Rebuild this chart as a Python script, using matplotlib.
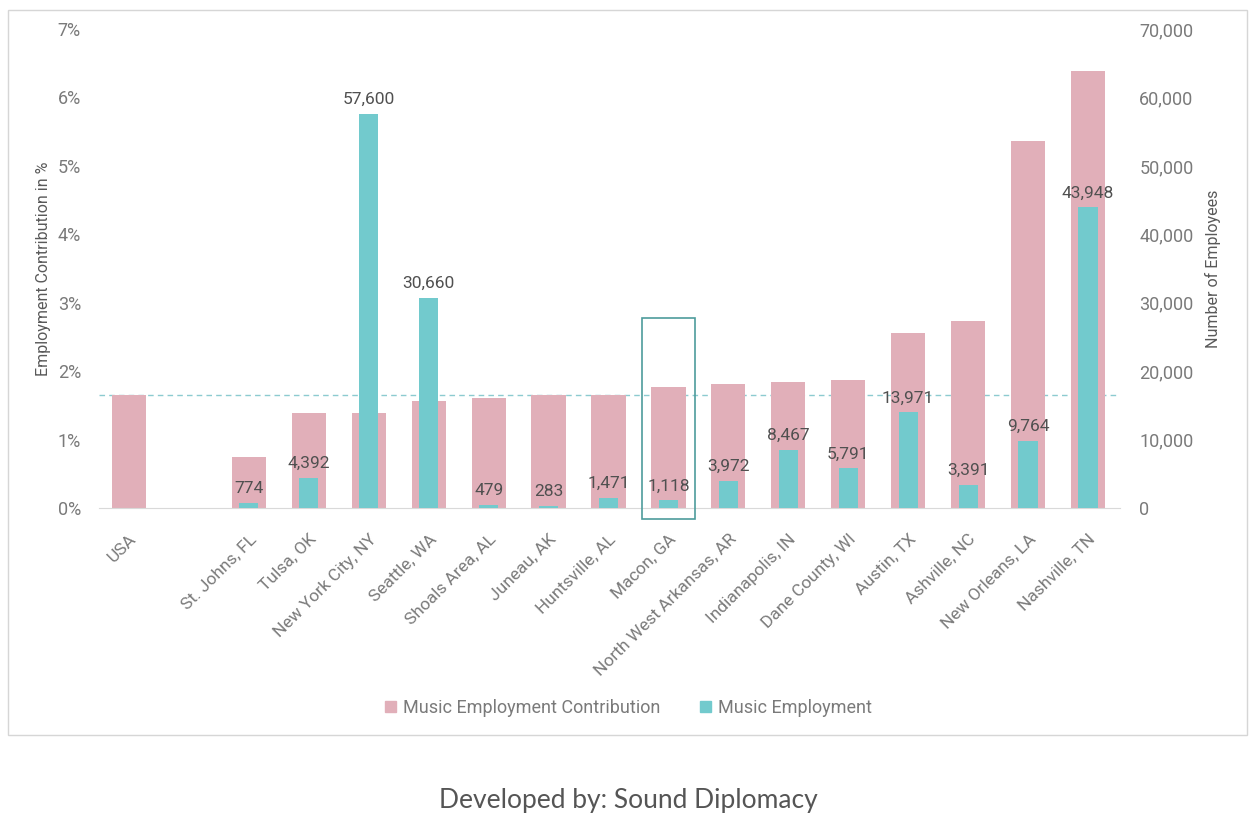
import matplotlib
matplotlib.use("Agg")
import matplotlib.pyplot as plt
from matplotlib.patches import Rectangle
from matplotlib.ticker import FuncFormatter, MultipleLocator
import numpy as np

plt.rcParams['font.family'] = ['Roboto', 'DejaVu Sans']

# ---- data -------------------------------------------------------------
categories = ["USA", "", "St. Johns, FL", "Tulsa, OK", "New York City, NY",
              "Seattle, WA", "Shoals Area, AL", "Juneau, AK", "Huntsville, AL",
              "Macon, GA", "North West Arkansas, AR", "Indianapolis, IN",
              "Dane County, WI", "Austin, TX", "Ashville, NC",
              "New Orleans, LA", "Nashville, TN"]

# share of employment in music (%)
contribution_pct = [1.65, np.nan, 0.75, 1.39, 1.39, 1.56, 1.60, 1.65, 1.65,
                    1.77, 1.81, 1.84, 1.87, 2.56, 2.73, 5.36, 6.39]

# number of music employees
employees = [np.nan, np.nan, 774, 4392, 57600, 30660, 479, 283, 1471,
             1118, 3972, 8467, 5791, 13971, 3391, 9764, 43948]

usa_reference = 1.65
highlight = "Macon, GA"

# ---- styling ----------------------------------------------------------
PINK = "#e1afb9"
TEAL = "#72cacd"
TICK_GREY = "#7a7a7a"
LABEL_GREY = "#595959"

fig = plt.figure(figsize=(12.57, 8.30), dpi=100)
ax = fig.add_axes([0.0788, 0.388, 0.812, 0.577])
ax2 = ax.twinx()

x = np.arange(len(categories))

ax.bar(x, contribution_pct, width=0.57, color=PINK, zorder=2)
ax2.bar(x, employees, width=0.32, color=TEAL, zorder=3)

# value labels above the employment bars
for xi, v in zip(x, employees):
    if np.isnan(v):
        continue
    ax2.annotate(f"{int(v):,}", (xi, v), xytext=(0, 5),
                 textcoords="offset points", ha="center", va="bottom",
                 fontsize=12.5, color="#505050")

# national average reference line
ax.axhline(usa_reference, color="#8ccbd0", lw=1.0, ls=(0, (4, 3)), zorder=1)

# highlight box around the chosen city
hi = categories.index(highlight)
ax.add_patch(Rectangle((hi - 0.435, -0.16), 0.87, 2.93, fill=False,
                       edgecolor="#4e9c9c", lw=1.2, clip_on=False, zorder=5))

# axes
ax.set_xlim(-0.5, len(categories) - 0.47)
ax.set_ylim(0, 7)
ax2.set_ylim(0, 70000)
ax.yaxis.set_major_locator(MultipleLocator(1))
ax.yaxis.set_major_formatter(FuncFormatter(lambda v, p: f"{int(round(v))}%"))
ax2.yaxis.set_major_locator(MultipleLocator(10000))
ax2.yaxis.set_major_formatter(FuncFormatter(lambda v, p: f"{int(v):,}"))

ax.set_xticks(x)
ax.set_xticklabels(categories, rotation=45, ha="right",
                   rotation_mode="anchor", fontsize=12.5, color=TICK_GREY)
ax.tick_params(axis="x", length=0, pad=17)
ax.tick_params(axis="y", length=0, pad=13, labelsize=13, labelcolor=TICK_GREY)
ax2.tick_params(axis="y", length=0, pad=14, labelsize=13, labelcolor=TICK_GREY)

for a in (ax, ax2):
    for s in ("top", "left", "right"):
        a.spines[s].set_visible(False)
    a.spines["bottom"].set_color("#d9d9d9")
ax2.spines["bottom"].set_visible(False)

ax.set_ylabel("Employment Contribution in %", fontsize=11.5, color=LABEL_GREY,
              labelpad=5)
ax2.set_ylabel("Number of Employees", fontsize=11.5, color=LABEL_GREY,
               rotation=90, labelpad=8)

# legend
handles = [Rectangle((0, 0), 1, 1, color=PINK), Rectangle((0, 0), 1, 1, color=TEAL)]
fig.legend(handles, ["Music Employment Contribution", "Music Employment"],
           loc="center", bbox_to_anchor=(0.5, 0.147), ncol=2, frameon=False,
           fontsize=13, handlelength=0.6, handleheight=0.6, handletextpad=0.4,
           columnspacing=2.2, labelcolor=TICK_GREY)

# chart frame
fig.patches.append(Rectangle((8 / 1257, 1 - 735 / 830), 1239 / 1257, 725 / 830,
                             transform=fig.transFigure, fill=False,
                             edgecolor="#d6d6d6", lw=1.0))

fig.text(0.5, 1 - 800 / 830, "Developed by: Sound Diplomacy", ha="center",
         va="center", fontsize=19, color="#555555", family=["Lato", "DejaVu Sans"])

fig.savefig("out.png", dpi=100, facecolor="white")
